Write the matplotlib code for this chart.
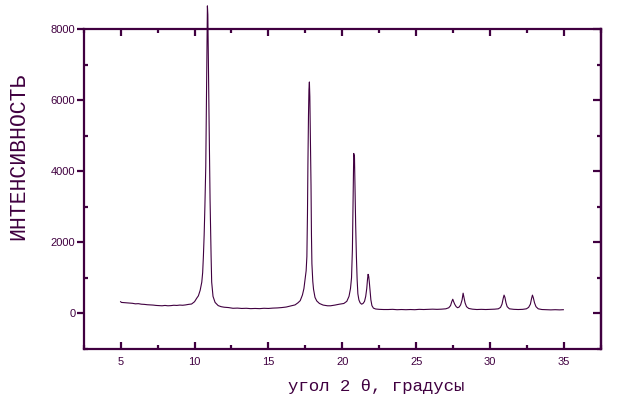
import matplotlib
matplotlib.use("Agg")
import matplotlib.pyplot as plt
from matplotlib.ticker import MultipleLocator

# дифрактограмма, точки
two_theta = [
    5.00, 5.05, 5.2, 5.4, 5.6, 5.8, 6.0, 6.2, 6.4, 6.6, 6.8, 7.0, 7.2, 7.4, 7.6, 7.8,
    8.0, 8.2, 8.4, 8.6, 8.8, 9.0, 9.2, 9.4, 9.6, 9.8, 10.0, 10.15, 10.26, 10.38, 10.49,
    10.55, 10.60, 10.65, 10.70, 10.76, 10.82, 10.85, 10.87, 10.90, 10.95, 10.98, 11.02,
    11.05, 11.09, 11.12, 11.16, 11.25, 11.39, 11.6, 11.8, 12.0, 12.3, 12.6, 12.9, 13.2,
    13.5, 13.8, 14.1, 14.4, 14.7, 15.0, 15.3, 15.6, 15.9, 16.2, 16.5, 16.8, 17.0, 17.15,
    17.3, 17.4, 17.48, 17.55, 17.6, 17.64, 17.67, 17.71, 17.74, 17.77, 17.8, 17.85,
    17.88, 17.91, 17.94, 18.0, 18.05, 18.15, 18.27, 18.45, 18.7, 19.0, 19.2, 19.5, 19.8,
    20.1, 20.3, 20.45, 20.55, 20.62, 20.68, 20.73, 20.77, 20.82, 20.86, 20.9, 20.95,
    21.0, 21.05, 21.12, 21.2, 21.3, 21.4, 21.5, 21.58, 21.65, 21.7, 21.74, 21.78, 21.82,
    21.87, 21.93, 22.0, 22.1, 22.25, 22.5, 22.8, 23.1, 23.4, 23.7, 24.0, 24.3, 24.6,
    24.9, 25.2, 25.5, 25.8, 26.1, 26.4, 26.7, 27.0, 27.2, 27.32, 27.4, 27.47, 27.53,
    27.6, 27.7, 27.8, 27.9, 28.0, 28.1, 28.17, 28.23, 28.3, 28.4, 28.55, 28.8, 29.1,
    29.4, 29.7, 30.0, 30.3, 30.55, 30.7, 30.8, 30.88, 30.94, 31.0, 31.07, 31.15, 31.3,
    31.6, 31.9, 32.2, 32.45, 32.6, 32.72, 32.8, 32.86, 32.92, 33.0, 33.1, 33.25, 33.5,
    33.8, 34.1, 34.4, 34.7, 34.95,
]
intensity = [
    330, 310, 305, 300, 290, 285, 270, 275, 260, 255, 245, 240, 235, 225, 220, 215,
    225, 215, 220, 230, 225, 235, 230, 240, 255, 265, 330, 430, 495, 650, 880,
    1150, 1615, 2200, 3000, 4140, 6500, 7800, 8650, 8400, 6500, 5545, 4200,
    3210, 2300, 1615, 880, 480, 310, 220, 190, 175, 165, 145, 150, 140,
    145, 135, 140, 135, 145, 140, 150, 155, 165, 180, 210, 240, 300, 360,
    520, 700, 960, 1200, 1600, 2800, 4200, 5600, 6300, 6510, 6100, 4600,
    3600, 2200, 1400, 900, 680, 450, 350, 280, 235, 215, 215, 235, 260,
    280, 340, 480, 700, 1000, 1800, 3200, 4500, 4400, 3400, 2500, 1600,
    950, 550, 380, 300, 260, 280, 340, 480, 700, 950, 1100, 1050, 900,
    650, 380, 220, 150, 125, 115, 110, 110, 115, 105, 110, 105, 110,
    105, 115, 110, 115, 120, 115, 120, 130, 160, 220, 330, 400, 330,
    260, 190, 160, 180, 240, 380, 570, 450, 300, 190, 140, 120, 110,
    115, 110, 115, 120, 130, 170, 260, 420, 515, 450, 300, 190, 130,
    115, 110, 115, 130, 170, 260, 420, 515, 440, 300, 190, 130, 110,
    105, 100, 105, 100, 105,
]

x_ticks = [5, 10, 15, 20, 25, 30, 35]
y_ticks = [0, 2000, 4000, 6000, 8000]

col = '#400040'

fig = plt.figure(figsize=(6.32, 4.01), dpi=100)
ax = fig.add_axes([0.1324, 0.1297, 0.951 - 0.1324, 0.9277 - 0.1297])

ax.plot(two_theta, intensity, color=col, lw=0.8, clip_on=False)

ax.set_xlim(2.5, 37.5)
ax.set_ylim(-1000, 8000)
ax.set_xticks(x_ticks)
ax.set_yticks(y_ticks)
ax.xaxis.set_minor_locator(MultipleLocator(2.5))
ax.yaxis.set_minor_locator(MultipleLocator(1000))

for s in ax.spines.values():
    s.set_color(col)
    s.set_linewidth(1.6)

ax.tick_params(axis='x', which='both', direction='in', top=True, colors=col,
               labelsize=8, pad=6, width=1.6)
ax.tick_params(axis='x', which='major', length=5)
ax.tick_params(axis='x', which='minor', length=3)
ax.tick_params(axis='y', which='major', direction='out', length=5, width=1.6,
               colors=col, labelsize=8, pad=1)
ax.tick_params(axis='y', which='minor', direction='in', length=3, width=1.6, colors=col)

sec = ax.secondary_yaxis('right')
sec.set_yticks(y_ticks)
sec.yaxis.set_minor_locator(MultipleLocator(1000))
sec.tick_params(which='both', direction='in', width=1.6, colors=col, labelright=False)
sec.tick_params(which='major', length=6)
sec.tick_params(which='minor', length=3)
sec.spines['right'].set_color(col)
sec.spines['right'].set_linewidth(1.6)

for lab in ax.get_xticklabels() + ax.get_yticklabels():
    lab.set_fontfamily('Liberation Sans')

fig.text(0.0296, 0.611, 'ИНТЕНСИВНОСТЬ', rotation=90, ha='center', va='center',
         fontsize=15.5, family='Liberation Mono', color=col)
fig.text(0.596, 0.036, 'угол 2 θ, градусы', ha='center', va='center',
         fontsize=12.5, family='Liberation Mono', color=col)

fig.savefig('out.png', dpi=100)
